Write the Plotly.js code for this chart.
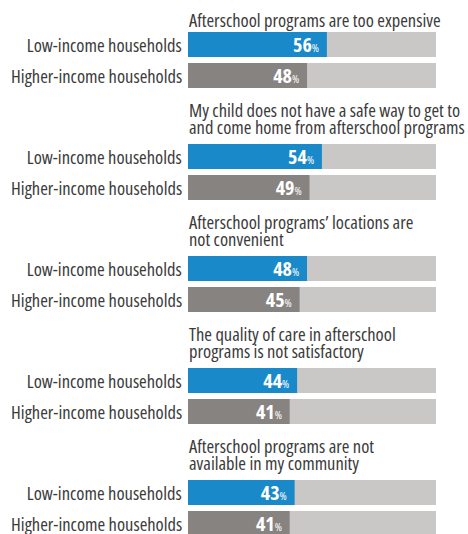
<!DOCTYPE html>
<html>
<head>
<meta charset="utf-8">
<script src="https://cdn.plot.ly/plotly-3.0.1.min.js"></script>
<style>
html,body{margin:0;padding:0;background:#fff;}
#chart{width:468px;height:534px;}
#chart text{font-stretch:condensed !important;}
</style>
</head>
<body>
<div id="chart"></div>
<script>
// ---- data ----
const questions = [
  ["Afterschool programs are too expensive"],
  ["My child does not have a safe way to get to", "and come home from afterschool programs"],
  ["Afterschool programs\u2019 locations are", "not convenient"],
  ["The quality of care in afterschool", "programs is not satisfactory"],
  ["Afterschool programs are not", "available in my community"]
];
const groupLabels = ["Low-income households", "Higher-income households"];
const lowIncome = [56, 54, 48, 44, 43];
const higherIncome = [48, 49, 45, 41, 41];
const fullScale = 100;

// ---- layout constants (row units: 1 row = 31px) ----
const ROW = 31;
const GROUP_STEP = 112 / ROW;
const FIRST = 44.5 / ROW;
const BAR_W = 25 / ROW;
const FONT = "'Open Sans', sans-serif";
const TEXT_COLOR = "#3b3b3b";
const FS = 18.5;

const yLow = questions.map((q, g) => FIRST + g * GROUP_STEP);
const yHigh = yLow.map(v => v + 1);

const bgY = yLow.concat(yHigh);
const valueText = v => "<b>" + v + "</b><span style='font-size:11px'>%\u2009</span>";
const traces = [
  {
    type: "bar", orientation: "h",
    x: bgY.map(() => fullScale), y: bgY, width: BAR_W,
    marker: {color: "#c9c8c6"}, hoverinfo: "skip", showlegend: false
  },
  {
    type: "bar", orientation: "h", name: groupLabels[0],
    x: lowIncome, y: yLow, width: BAR_W,
    marker: {color: "#1a89c9"},
    text: lowIncome.map(valueText),
    textposition: "inside", insidetextanchor: "end", textangle: 0,
    textfont: {family: FONT, size: 20, color: "#ffffff"},
    constraintext: "none", cliponaxis: true, showlegend: false
  },
  {
    type: "bar", orientation: "h", name: groupLabels[1],
    x: higherIncome, y: yHigh, width: BAR_W,
    marker: {color: "#878381"},
    text: higherIncome.map(valueText),
    textposition: "inside", insidetextanchor: "end", textangle: 0,
    textfont: {family: FONT, size: 20, color: "#ffffff"},
    constraintext: "none", cliponaxis: true, showlegend: false
  }
];

const annotations = [];
questions.forEach((lines, g) => {
  const barTop = yLow[g] - BAR_W / 2;
  const n = lines.length;
  lines.forEach((line, i) => {
    const fromBottom = n - 1 - i;
    const baseGap = (n === 1 ? 5 : 10) / ROW;
    const yBase = barTop - baseGap - fromBottom * (17 / ROW);
    annotations.push({
      xref: "paper", yref: "y", x: 0, y: yBase,
      xanchor: "left", yanchor: "bottom", yshift: -6,
      text: line, showarrow: false, align: "left",
      font: {family: FONT, size: FS, color: TEXT_COLOR},
      borderpad: 0
    });
  });
  // row labels
  [yLow[g], yHigh[g]].forEach((yv, k) => {
    annotations.push({
      xref: "paper", yref: "y", x: 0, y: yv,
      xanchor: "right", yanchor: "middle", xshift: -5,
      text: groupLabels[k], showarrow: false, align: "right",
      font: {family: FONT, size: FS, color: TEXT_COLOR},
      borderpad: 0
    });
  });
});

const layout = {
  width: 468, height: 534,
  margin: {l: 188, r: 32, t: 0, b: 0, pad: 0},
  paper_bgcolor: "#ffffff", plot_bgcolor: "#ffffff",
  barmode: "overlay",
  xaxis: {range: [0, fullScale], visible: false, fixedrange: true},
  yaxis: {
    range: [534 / ROW, 0], autorange: false,
    showticklabels: false,
    showgrid: false, zeroline: false, showline: false, ticks: "",
    fixedrange: true
  },
  annotations: annotations,
  font: {family: FONT}
};

Plotly.newPlot("chart", traces, layout, {displayModeBar: false, staticPlot: true});
</script>
</body>
</html>
